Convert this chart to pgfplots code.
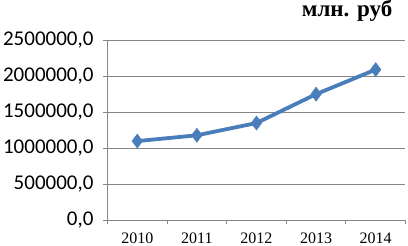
\documentclass[border=0pt]{standalone}
\usepackage{fontspec}
\setmainfont{Liberation Serif}
\newfontfamily\calibri{Carlito}
\usepackage{pgfplots}
\pgfplotsset{compat=1.18}
\definecolor{exblue}{HTML}{4A7EBB}
\definecolor{gridgray}{HTML}{868686}

\begin{document}
\begin{tikzpicture}
\useasboundingbox (-107.5pt,-25.5pt) rectangle (300.5pt,220.5pt);
\begin{axis}[
    scale only axis,
    width=298pt, height=180.5pt,
    xmin=0.5, xmax=5.5,
    ymin=0, ymax=2500000,
    xtick={0.5,1.5,...,5.5},
    xticklabels={2010,2011,2012,2013,2014},
    x tick label as interval,
    ytick={0,500000,...,2500000},
    yticklabels={{0,0},{500000,0},{1000000,0},{1500000,0},{2000000,0},{2500000,0}},
    scaled y ticks=false,
    axis x line*=bottom,
    axis y line*=left,
    axis line style={gridgray, line width=0.9pt},
    x axis line style={-}, y axis line style={-},
    tick style={gridgray, line width=0.9pt},
    tick align=outside,
    major tick length=4pt,
    ymajorgrids,
    grid style={gridgray, line width=0.9pt},
    every x tick label/.append style={font=\fontsize{16}{18}\selectfont, inner sep=0pt, yshift=-8pt},
    every y tick label/.append style={font=\calibri\fontsize{21}{24}\selectfont, xshift=-6.5pt},
    clip=false,
]
\addplot[exblue, line width=3.8pt, mark=diamond*, mark size=7pt,
         mark options={fill=exblue, draw=exblue, line width=0.5pt}]
coordinates {
    (1,1100000)
    (2,1180000)
    (3,1350000)
    (4,1750000)
    (5,2090000)
};
\end{axis}
\node[anchor=base east, inner sep=0pt, font=\bfseries\fontsize{23}{25}\selectfont]
    at (285pt,203.5pt) {млн. руб};
\end{tikzpicture}
\end{document}
